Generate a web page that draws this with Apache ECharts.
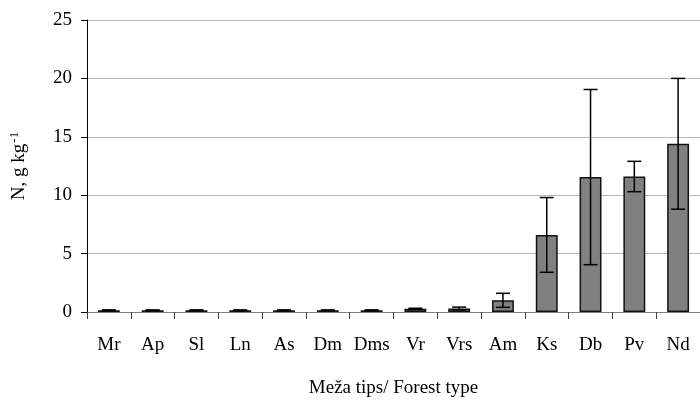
<!DOCTYPE html>
<html>
<head>
<meta charset="utf-8">
<script src="https://cdn.jsdelivr.net/npm/echarts@6/dist/echarts.min.js"></script>
<style>
  html, body { margin: 0; padding: 0; background: #fff; }
  #chart { width: 700px; height: 407px; }
</style>
</head>
<body>
<div id="chart"></div>
<script>
// Forest types and soil nitrogen (mean and standard deviation)
const categories = ['Mr', 'Ap', 'Sl', 'Ln', 'As', 'Dm', 'Dms', 'Vr', 'Vrs', 'Am', 'Ks', 'Db', 'Pv', 'Nd'];
const meanN = [0.15, 0.15, 0.15, 0.15, 0.15, 0.15, 0.15, 0.28, 0.3, 1.0, 6.6, 11.55, 11.6, 14.4];
const sdN = [0.03, 0.03, 0.03, 0.03, 0.03, 0.03, 0.03, 0.04, 0.12, 0.6, 3.2, 7.5, 1.3, 5.6];
const yTicks = { min: 0, max: 25, interval: 5 };

const serif = '"Liberation Serif", "DejaVu Serif", serif';
const chart = echarts.init(document.getElementById('chart'));

const errData = categories.map((c, i) => [i, meanN[i] - sdN[i], meanN[i] + sdN[i]]);

chart.setOption({
  animation: false,
  grid: { left: 86, top: 20, width: 622, height: 292, containLabel: false },
  xAxis: {
    type: 'category',
    data: categories,
    name: 'Meža tips/ Forest type',
    nameLocation: 'middle',
    nameGap: 67,
    nameTextStyle: { fontFamily: serif, fontSize: 19, color: '#000' },
    axisLine: { lineStyle: { color: '#808080', width: 1 } },
    axisTick: { show: true, alignWithLabel: false, length: 7, lineStyle: { color: '#404040' } },
    axisLabel: { fontFamily: serif, fontSize: 19, color: '#000', margin: 24, interval: 0 }
  },
  yAxis: {
    type: 'value',
    min: yTicks.min,
    max: yTicks.max,
    interval: yTicks.interval,
    name: 'N, g kg{sup|-1}',
    nameLocation: 'middle',
    nameRotate: 90,
    nameGap: 56,
    nameTextStyle: {
      fontFamily: serif, fontSize: 19, color: '#000',
      rich: { sup: { fontFamily: serif, fontSize: 13, color: '#000', verticalAlign: 'top', padding: [0, 0, 10, 1] } }
    },
    axisLine: { show: true, lineStyle: { color: '#000', width: 1 } },
    axisTick: { show: true, inside: false, length: 6, lineStyle: { color: '#000' } },
    axisLabel: { fontFamily: serif, fontSize: 19, color: '#000', margin: 15 },
    splitLine: { show: true, lineStyle: { color: '#b8b8b8', width: 1 } }
  },
  series: [
    {
      type: 'bar',
      data: meanN,
      barWidth: '50%',
      itemStyle: { color: '#808080', borderColor: '#111', borderWidth: 1.5 }
    },
    {
      type: 'custom',
      data: errData,
      z: 10,
      renderItem: function (params, api) {
        const x = api.value(0);
        const lo = api.coord([x, api.value(1)]);
        const hi = api.coord([x, api.value(2)]);
        const half = 7;
        const style = { stroke: '#000', lineWidth: 1.5 };
        return {
          type: 'group',
          children: [
            { type: 'line', shape: { x1: hi[0], y1: hi[1], x2: lo[0], y2: lo[1] }, style },
            { type: 'line', shape: { x1: hi[0] - half, y1: hi[1], x2: hi[0] + half, y2: hi[1] }, style },
            { type: 'line', shape: { x1: lo[0] - half, y1: lo[1], x2: lo[0] + half, y2: lo[1] }, style }
          ]
        };
      }
    }
  ]
});
</script>
</body>
</html>
